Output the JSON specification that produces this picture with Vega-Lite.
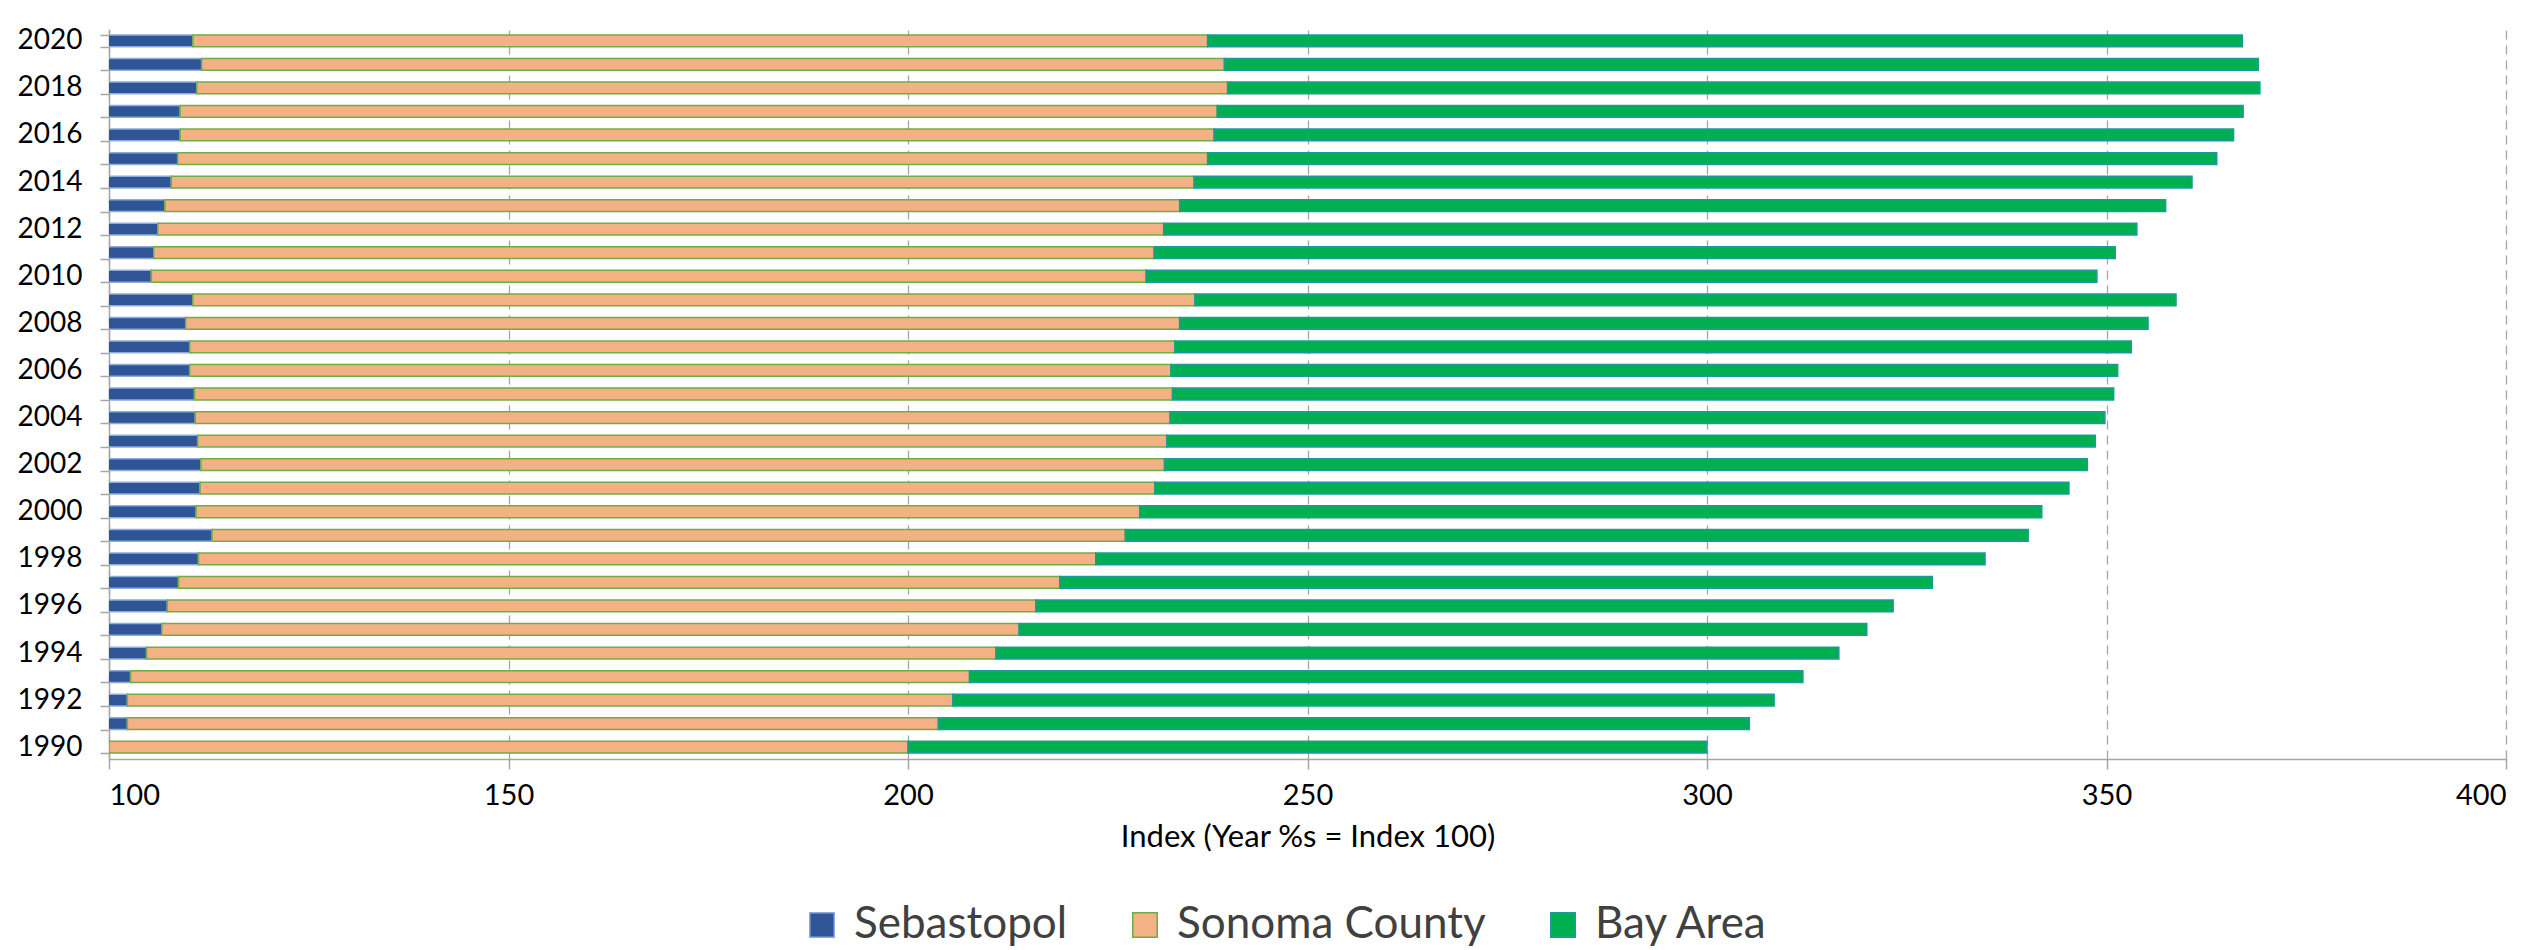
{
  "$schema": "https://vega.github.io/schema/vega-lite/v6.json",
  "autosize": {"type": "none"},
  "width": 2397,
  "height": 730,
  "padding": {"left": 109, "top": 29, "right": 33, "bottom": 191},
  "background": "white",
  "config": {
    "font": "Lato",
    "view": {"stroke": null}
  },
  "data": {
    "values": [
      {"year": 2020, "series": "Sebastopol", "value": 110.5, "k": 1},
      {"year": 2020, "series": "Sonoma County", "value": 127.0, "k": 2},
      {"year": 2020, "series": "Bay Area", "value": 129.5, "k": 3},
      {"year": 2019, "series": "Sebastopol", "value": 111.6, "k": 1},
      {"year": 2019, "series": "Sonoma County", "value": 128.0, "k": 2},
      {"year": 2019, "series": "Bay Area", "value": 129.4, "k": 3},
      {"year": 2018, "series": "Sebastopol", "value": 111.0, "k": 1},
      {"year": 2018, "series": "Sonoma County", "value": 129.0, "k": 2},
      {"year": 2018, "series": "Bay Area", "value": 129.2, "k": 3},
      {"year": 2017, "series": "Sebastopol", "value": 108.9, "k": 1},
      {"year": 2017, "series": "Sonoma County", "value": 129.8, "k": 2},
      {"year": 2017, "series": "Bay Area", "value": 128.4, "k": 3},
      {"year": 2016, "series": "Sebastopol", "value": 108.9, "k": 1},
      {"year": 2016, "series": "Sonoma County", "value": 129.4, "k": 2},
      {"year": 2016, "series": "Bay Area", "value": 127.6, "k": 3},
      {"year": 2015, "series": "Sebastopol", "value": 108.6, "k": 1},
      {"year": 2015, "series": "Sonoma County", "value": 128.9, "k": 2},
      {"year": 2015, "series": "Bay Area", "value": 126.3, "k": 3},
      {"year": 2014, "series": "Sebastopol", "value": 107.8, "k": 1},
      {"year": 2014, "series": "Sonoma County", "value": 128.0, "k": 2},
      {"year": 2014, "series": "Bay Area", "value": 124.9, "k": 3},
      {"year": 2013, "series": "Sebastopol", "value": 107.0, "k": 1},
      {"year": 2013, "series": "Sonoma County", "value": 127.0, "k": 2},
      {"year": 2013, "series": "Bay Area", "value": 123.4, "k": 3},
      {"year": 2012, "series": "Sebastopol", "value": 106.1, "k": 1},
      {"year": 2012, "series": "Sonoma County", "value": 125.9, "k": 2},
      {"year": 2012, "series": "Bay Area", "value": 121.8, "k": 3},
      {"year": 2011, "series": "Sebastopol", "value": 105.6, "k": 1},
      {"year": 2011, "series": "Sonoma County", "value": 125.2, "k": 2},
      {"year": 2011, "series": "Bay Area", "value": 120.3, "k": 3},
      {"year": 2010, "series": "Sebastopol", "value": 105.3, "k": 1},
      {"year": 2010, "series": "Sonoma County", "value": 124.5, "k": 2},
      {"year": 2010, "series": "Bay Area", "value": 119.0, "k": 3},
      {"year": 2009, "series": "Sebastopol", "value": 110.5, "k": 1},
      {"year": 2009, "series": "Sonoma County", "value": 125.4, "k": 2},
      {"year": 2009, "series": "Bay Area", "value": 122.8, "k": 3},
      {"year": 2008, "series": "Sebastopol", "value": 109.6, "k": 1},
      {"year": 2008, "series": "Sonoma County", "value": 124.4, "k": 2},
      {"year": 2008, "series": "Bay Area", "value": 121.2, "k": 3},
      {"year": 2007, "series": "Sebastopol", "value": 110.1, "k": 1},
      {"year": 2007, "series": "Sonoma County", "value": 123.3, "k": 2},
      {"year": 2007, "series": "Bay Area", "value": 119.7, "k": 3},
      {"year": 2006, "series": "Sebastopol", "value": 110.1, "k": 1},
      {"year": 2006, "series": "Sonoma County", "value": 122.8, "k": 2},
      {"year": 2006, "series": "Bay Area", "value": 118.5, "k": 3},
      {"year": 2005, "series": "Sebastopol", "value": 110.7, "k": 1},
      {"year": 2005, "series": "Sonoma County", "value": 122.4, "k": 2},
      {"year": 2005, "series": "Bay Area", "value": 117.8, "k": 3},
      {"year": 2004, "series": "Sebastopol", "value": 110.8, "k": 1},
      {"year": 2004, "series": "Sonoma County", "value": 122.0, "k": 2},
      {"year": 2004, "series": "Bay Area", "value": 117.0, "k": 3},
      {"year": 2003, "series": "Sebastopol", "value": 111.1, "k": 1},
      {"year": 2003, "series": "Sonoma County", "value": 121.3, "k": 2},
      {"year": 2003, "series": "Bay Area", "value": 116.2, "k": 3},
      {"year": 2002, "series": "Sebastopol", "value": 111.5, "k": 1},
      {"year": 2002, "series": "Sonoma County", "value": 120.6, "k": 2},
      {"year": 2002, "series": "Bay Area", "value": 115.5, "k": 3},
      {"year": 2001, "series": "Sebastopol", "value": 111.4, "k": 1},
      {"year": 2001, "series": "Sonoma County", "value": 119.5, "k": 2},
      {"year": 2001, "series": "Bay Area", "value": 114.4, "k": 3},
      {"year": 2000, "series": "Sebastopol", "value": 110.9, "k": 1},
      {"year": 2000, "series": "Sonoma County", "value": 118.1, "k": 2},
      {"year": 2000, "series": "Bay Area", "value": 112.9, "k": 3},
      {"year": 1999, "series": "Sebastopol", "value": 112.9, "k": 1},
      {"year": 1999, "series": "Sonoma County", "value": 114.3, "k": 2},
      {"year": 1999, "series": "Bay Area", "value": 113.0, "k": 3},
      {"year": 1998, "series": "Sebastopol", "value": 111.2, "k": 1},
      {"year": 1998, "series": "Sonoma County", "value": 112.3, "k": 2},
      {"year": 1998, "series": "Bay Area", "value": 111.3, "k": 3},
      {"year": 1997, "series": "Sebastopol", "value": 108.7, "k": 1},
      {"year": 1997, "series": "Sonoma County", "value": 110.3, "k": 2},
      {"year": 1997, "series": "Bay Area", "value": 109.2, "k": 3},
      {"year": 1996, "series": "Sebastopol", "value": 107.3, "k": 1},
      {"year": 1996, "series": "Sonoma County", "value": 108.7, "k": 2},
      {"year": 1996, "series": "Bay Area", "value": 107.3, "k": 3},
      {"year": 1995, "series": "Sebastopol", "value": 106.6, "k": 1},
      {"year": 1995, "series": "Sonoma County", "value": 107.3, "k": 2},
      {"year": 1995, "series": "Bay Area", "value": 106.1, "k": 3},
      {"year": 1994, "series": "Sebastopol", "value": 104.7, "k": 1},
      {"year": 1994, "series": "Sonoma County", "value": 106.3, "k": 2},
      {"year": 1994, "series": "Bay Area", "value": 105.5, "k": 3},
      {"year": 1993, "series": "Sebastopol", "value": 102.7, "k": 1},
      {"year": 1993, "series": "Sonoma County", "value": 105.0, "k": 2},
      {"year": 1993, "series": "Bay Area", "value": 104.3, "k": 3},
      {"year": 1992, "series": "Sebastopol", "value": 102.3, "k": 1},
      {"year": 1992, "series": "Sonoma County", "value": 103.3, "k": 2},
      {"year": 1992, "series": "Bay Area", "value": 102.8, "k": 3},
      {"year": 1991, "series": "Sebastopol", "value": 102.3, "k": 1},
      {"year": 1991, "series": "Sonoma County", "value": 101.5, "k": 2},
      {"year": 1991, "series": "Bay Area", "value": 101.5, "k": 3},
      {"year": 1990, "series": "Sebastopol", "value": 100.0, "k": 1},
      {"year": 1990, "series": "Sonoma County", "value": 100.0, "k": 2},
      {"year": 1990, "series": "Bay Area", "value": 100.0, "k": 3}
    ]
  },
  "mark": {"type": "bar", "clip": true, "strokeWidth": 1.5},
  "encoding": {
    "y": {
      "field": "year",
      "type": "ordinal",
      "sort": "descending",
      "scale": {"paddingInner": 0.5, "paddingOuter": 0.25},
      "axis": {
        "title": null,
        "labelExpr": "datum.value % 2 === 0 ? datum.value : ''",
        "tickBand": "extent",
        "labelFontSize": 28,
        "labelColor": "#000000",
        "labelPadding": 18,
        "tickSize": 9,
        "tickColor": "#A6A6A6",
        "tickWidth": 1.5,
        "domainColor": "#A6A6A6",
        "domainWidth": 1.5,
        "grid": false
      }
    },
    "x": {
      "field": "value",
      "type": "quantitative",
      "stack": "zero",
      "scale": {"domain": [100, 400], "nice": false, "zero": false},
      "axis": {
        "title": "Index (Year %s = Index 100)",
        "titleFontSize": 31,
        "titleFontWeight": "normal",
        "titleColor": "#000000",
        "titlePadding": 12,
        "values": [100, 150, 200, 250, 300, 350, 400],
        "labelFontSize": 29,
        "labelColor": "#000000",
        "labelPadding": 12,
        "tickSize": 10,
        "tickColor": "#A6A6A6",
        "tickWidth": 1.5,
        "domainColor": "#A6A6A6",
        "domainWidth": 1.5,
        "grid": true,
        "gridColor": "#A6A6A6",
        "gridDash": [9, 6],
        "gridWidth": 1.3
      }
    },
    "order": {"field": "k", "type": "quantitative"},
    "color": {
      "field": "series",
      "type": "nominal",
      "scale": {
        "domain": ["Sebastopol", "Sonoma County", "Bay Area"],
        "range": ["#2F5597", "#F4B183", "#00B050"]
      },
      "legend": {
        "title": null,
        "orient": "none",
        "direction": "horizontal",
        "legendX": 691,
        "legendY": 874,
        "symbolType": "square",
        "symbolSize": 600,
        "symbolStrokeWidth": 1.5,
        "labelFontSize": 44,
        "labelLimit": 0,
        "labelColor": "#404040",
        "labelOffset": 10,
        "columnPadding": 55
      }
    },
    "stroke": {
      "field": "series",
      "type": "nominal",
      "scale": {
        "domain": ["Sebastopol", "Sonoma County", "Bay Area"],
        "range": ["#8FAADC", "#70AD47", "#1F9A9A"]
      },
      "legend": null
    }
  }
}
